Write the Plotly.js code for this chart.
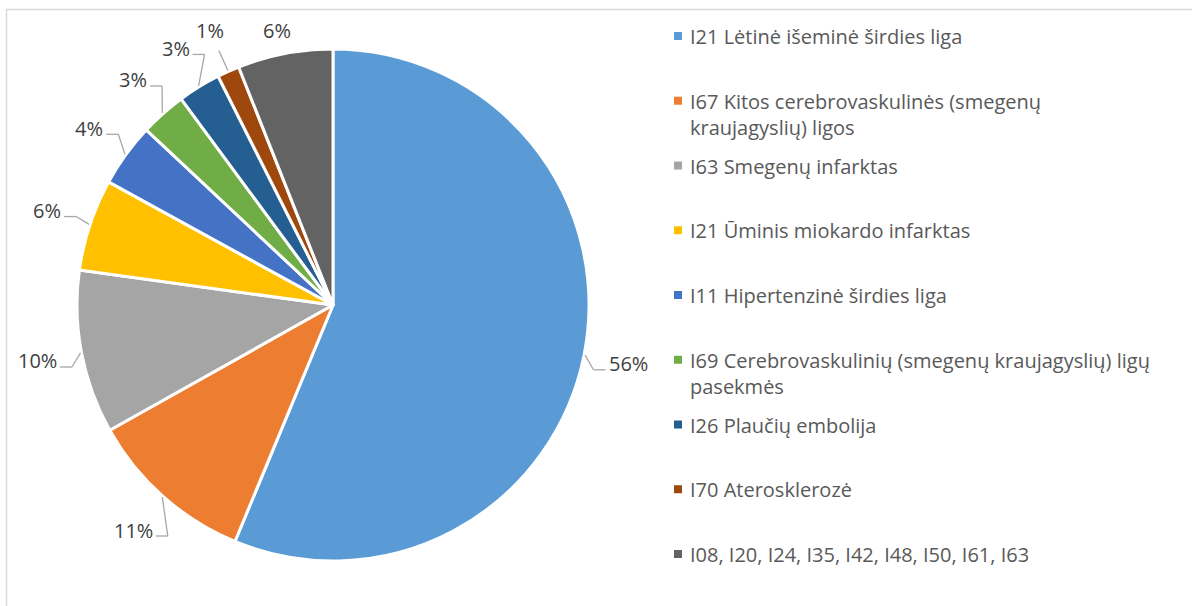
<!DOCTYPE html>
<html><head><meta charset="utf-8">
<script src="https://cdn.plot.ly/plotly-3.0.1.min.js"></script>
<style>html,body{margin:0;padding:0;background:#fff}#chart{width:1192px;height:606px}</style>
</head><body><div id="chart"></div>
<script>
// ---- data ----
const categories = [
  'I21 Lėtinė išeminė širdies liga',
  'I67 Kitos cerebrovaskulinės (smegenų kraujagyslių) ligos',
  'I63 Smegenų infarktas',
  'I21 Ūminis miokardo infarktas',
  'I11 Hipertenzinė širdies liga',
  'I69 Cerebrovaskulinių (smegenų kraujagyslių) ligų pasekmės',
  'I26 Plaučių embolija',
  'I70 Aterosklerozė',
  'I08, I20, I24, I35, I42, I48, I50, I61, I63'
];
const values = [56.2, 10.6, 10.3, 5.8, 4.0, 2.9, 2.7, 1.4, 6.0];
const colors = ['#5B9BD5','#ED7D31','#A5A5A5','#FFC000','#4472C4','#70AD47','#255E91','#9E480E','#636363'];

// ---- layout helpers ----
const W = 1192, H = 606;
const px = x => x / W;
const py = y => 1 - y / H;
const CX = 333, CY = 305, R = 256;
const total = values.reduce((a, b) => a + b, 0);
const percentLabels = values.map(v => Math.round(v / total * 100) + '%');

const ctx = document.createElement('canvas').getContext('2d');
ctx.font = '20px "Open Sans"';
const textW = s => ctx.measureText(s).width;

function wrap(s, maxChars) {
  const words = s.split(' '); const lines = []; let cur = '';
  words.forEach(w => {
    if (cur && (cur + ' ' + w).length > maxChars) { lines.push(cur); cur = w; }
    else cur = cur ? cur + ' ' + w : w;
  });
  if (cur) lines.push(cur);
  return lines.join('<br>');
}

const shapes = [];
const annotations = [];
const lineColor = '#A6A6A6';
const seg = (a, b) => shapes.push({type:'line', xref:'paper', yref:'paper',
  x0:px(a[0]), y0:py(a[1]), x1:px(b[0]), y1:py(b[1]), line:{color:lineColor, width:1.3}});

// outer frame
shapes.push({type:'rect', xref:'paper', yref:'paper', x0:px(6.5), x1:1.02, y0:-0.02, y1:py(9.5),
  line:{color:'#D9D9D9', width:1.5}, fillcolor:'rgba(0,0,0,0)', layer:'below'});

// data labels with leader lines (positions derived from values)
let cum = 0;
values.forEach((v, i) => {
  const th = (cum + v / 2) / total * 2 * Math.PI;
  cum += v;
  const ux = Math.sin(th), uy = -Math.cos(th);
  const E = [CX + (R + 1) * ux, CY + (R + 1) * uy];
  const L = [CX + (R + 45) * ux, Math.max(30, CY + (R + 45) * uy)];
  const dist = Math.hypot(L[0] - E[0], L[1] - E[1]);
  if (dist > 35) {
    if (Math.abs(ux) > 0.5) {
      const s = ux > 0 ? 1 : -1;
      const w = textW(percentLabels[i]);
      const A = [L[0] - s * (w / 2 + 3), L[1] + 6];
      const B = [L[0] - s * (w / 2 + 15), L[1] + 6];
      seg(A, B); seg(B, E);
    } else {
      const P = [CX + (R + 23) * ux, CY + (R + 23) * uy];
      seg(E, P);
    }
  }
  annotations.push({xref:'paper', yref:'paper', x:px(L[0]), y:py(L[1]), xanchor:'center', yanchor:'middle',
    text: percentLabels[i], showarrow:false, font:{family:'Open Sans', size:20, color:'#404040'}});
});

// legend (drawn as text + square markers)
const slot0 = 36, pitch = 64.75;
categories.forEach((c, i) => {
  const yc = slot0 + i * pitch;
  shapes.push({type:'rect', xref:'paper', yref:'paper', x0:px(674), x1:px(682), y0:py(yc + 4), y1:py(yc - 4),
    line:{width:0}, fillcolor:colors[i]});
  annotations.push({xref:'paper', yref:'paper', x:px(688), y:py(yc - 15), xanchor:'left', yanchor:'top', align:'left',
    text: wrap(c, 49), showarrow:false, font:{family:'Open Sans', size:20, color:'#595959'}});
});

const data = [{
  type:'pie', labels:categories, values:values, sort:false, direction:'clockwise', rotation:0,
  marker:{colors:colors, line:{color:'#FFFFFF', width:3}},
  textinfo:'none', hoverinfo:'label+percent',
  domain:{x:[px(CX - R), px(CX + R)], y:[py(CY + R), py(CY - R)]}
}];

const layout = {
  width:W, height:H, margin:{l:0, r:0, t:0, b:0}, showlegend:false,
  paper_bgcolor:'#FFFFFF', shapes:shapes, annotations:annotations,
  font:{family:'Open Sans'}
};
Plotly.newPlot('chart', data, layout, {displayModeBar:false, staticPlot:true});
</script></body></html>
